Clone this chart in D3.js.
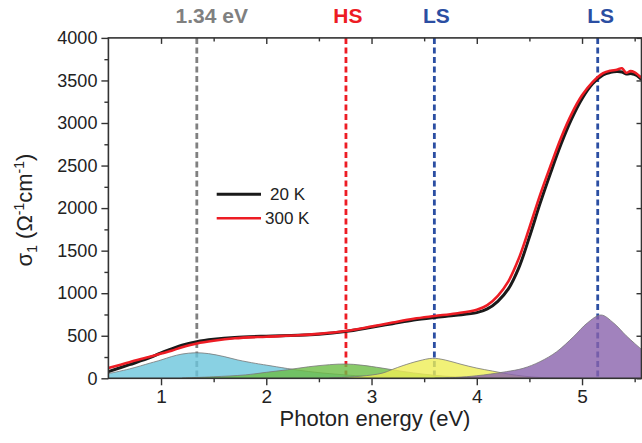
<!DOCTYPE html>
<html>
<head>
<meta charset="utf-8">
<script src="https://cdn.jsdelivr.net/npm/d3@7"></script>
<style>
  body { margin: 0; background: #fff; }
  #chart text { font-family: "Liberation Sans", Arial, sans-serif; }
</style>
</head>
<body>
<div id="chart"></div>
<script>
// Measured optical conductivity (eV, sigma_1)
const energy20K = [0.5, 0.7, 0.9, 1.0, 1.1, 1.2, 1.34, 1.5, 1.7, 2.0, 2.3, 2.5, 2.75, 3.0, 3.2, 3.4, 3.6, 3.8, 4.0, 4.1, 4.2, 4.3, 4.4, 4.5, 4.6, 4.7, 4.8, 4.9, 5.0, 5.1, 5.2, 5.27, 5.33, 5.38, 5.42, 5.47, 5.52, 5.565];
const sigma20K = [78, 160, 245, 300, 345, 390, 430, 458, 480, 495, 505, 518, 550, 600, 642, 685, 715, 740, 772, 815, 905, 1050, 1300, 1660, 2050, 2410, 2750, 3045, 3285, 3460, 3565, 3595, 3605, 3600, 3575, 3580, 3560, 3510];

const energy300K = [0.5, 0.7, 0.9, 1.0, 1.1, 1.2, 1.34, 1.5, 1.7, 2.0, 2.3, 2.5, 2.75, 3.0, 3.2, 3.4, 3.6, 3.8, 4.0, 4.1, 4.2, 4.3, 4.4, 4.5, 4.6, 4.7, 4.8, 4.9, 5.0, 5.1, 5.2, 5.27, 5.33, 5.38, 5.42, 5.46, 5.5, 5.565];
const sigma300K = [120, 190, 255, 290, 325, 365, 410, 442, 470, 489, 505, 522, 555, 608, 655, 700, 732, 762, 805, 860, 970, 1140, 1410, 1770, 2150, 2495, 2825, 3105, 3325, 3480, 3585, 3615, 3625, 3643, 3590, 3610, 3595, 3530];

// Fitted oscillator contributions
const peak1E = [0.5, 0.7, 0.9, 1.0, 1.1, 1.2, 1.33, 1.45, 1.6, 1.73, 1.9, 2.0, 2.2, 2.4, 2.6, 2.8, 3.0, 3.3, 3.6, 4.0];
const peak1S = [55, 110, 180, 215, 255, 285, 300, 290, 255, 215, 175, 155, 115, 80, 55, 35, 22, 10, 4, 0];

const peak2E = [1.2, 1.5, 1.8, 2.0, 2.2, 2.4, 2.6, 2.76, 2.9, 3.1, 3.3, 3.5, 3.7, 3.9, 4.2, 4.5];
const peak2S = [3, 18, 40, 70, 100, 135, 160, 168, 155, 120, 80, 48, 25, 12, 4, 0];

const peak3E = [2.6, 2.9, 3.1, 3.2, 3.3, 3.45, 3.58, 3.7, 3.85, 4.0, 4.15, 4.3, 4.45, 4.6, 4.8, 5.0];
const peak3S = [3, 25, 60, 105, 150, 205, 235, 215, 165, 120, 85, 50, 25, 10, 3, 0];

const peak4E = [3.6, 3.8, 4.0, 4.13, 4.28, 4.44, 4.6, 4.76, 4.92, 5.05, 5.18, 5.3, 5.42, 5.5, 5.565];
const peak4S = [3, 10, 30, 50, 78, 117, 195, 313, 490, 650, 744, 650, 500, 410, 340];

const peakColors = ["#6cc5dc", "#6cbd45", "#eeee55", "#8a63ad"];

// Transition markers
const markerE = [1.34, 2.757, 3.597, 5.149];
const markerLabels = ["1.34 eV", "HS", "LS", "LS"];
const markerColors = ["#808080", "#ed1c24", "#2b4ea2", "#2b4ea2"];
const markerLabelShift = [15, 2, 2, 3];

const xTicks = [1, 2, 3, 4, 5];
const xMinor = [1.5, 2.5, 3.5, 4.5, 5.5];
const yTicks = [0, 500, 1000, 1500, 2000, 2500, 3000, 3500, 4000];
const yMinor = [250, 750, 1250, 1750, 2250, 2750, 3250, 3750];

const width = 642, height = 443;

const svg = d3.select("#chart").append("svg")
  .attr("width", width)
  .attr("height", height);

const x = d3.scaleLinear().domain([0.5, 5.565]).range([108.4, 641.5]);
const y = d3.scaleLinear().domain([0, 4000]).range([378.3, 37.9]);

const axisColor = "#333";

// Dashed marker lines (drawn under the fills)
markerE.forEach((e, i) => {
  svg.append("line")
    .attr("x1", x(e)).attr("x2", x(e))
    .attr("y1", y(4000)).attr("y2", y(0))
    .attr("stroke", markerColors[i])
    .attr("stroke-width", 2.8)
    .attr("stroke-dasharray", "6,3.5");
  svg.append("text")
    .attr("x", x(e) + markerLabelShift[i])
    .attr("y", 22.7)
    .attr("text-anchor", "middle")
    .style("font-size", "21px")
    .style("font-weight", "bold")
    .style("fill", markerColors[i])
    .text(markerLabels[i]);
});

// Oscillator areas
const peaks = [
  [peak1E, peak1S], [peak2E, peak2S], [peak3E, peak3S], [peak4E, peak4S]
];
const area = d3.area()
  .x(d => x(d[0]))
  .y0(y(0))
  .y1(d => y(d[1]))
  .curve(d3.curveCatmullRom.alpha(0.5));
const edge = d3.line()
  .x(d => x(d[0]))
  .y(d => y(d[1]))
  .curve(d3.curveCatmullRom.alpha(0.5));

peaks.forEach((p, i) => {
  const pts = p[0].map((e, j) => [e, p[1][j]]);
  svg.append("path")
    .attr("d", area(pts))
    .attr("fill", peakColors[i])
    .attr("fill-opacity", 0.8);
  svg.append("path")
    .attr("d", edge(pts))
    .attr("fill", "none")
    .attr("stroke", "#777")
    .attr("stroke-width", 0.8);
});

// Spectra
const line = d3.line()
  .x(d => x(d[0]))
  .y(d => y(d[1]))
  .curve(d3.curveCatmullRom.alpha(0.5));

svg.append("path")
  .attr("d", line(energy20K.map((e, i) => [e, sigma20K[i]])))
  .attr("fill", "none")
  .attr("stroke", "#1a1a1a")
  .attr("stroke-width", 3);

svg.append("path")
  .attr("d", line(energy300K.map((e, i) => [e, sigma300K[i]])))
  .attr("fill", "none")
  .attr("stroke", "#ed1c24")
  .attr("stroke-width", 2.6);

// Axes
svg.append("g")
  .attr("transform", "translate(0," + y(0) + ")")
  .call(d3.axisBottom(x).tickValues(xTicks).tickSize(7).tickPadding(4).tickFormat(d3.format("d")))
  .call(g => g.select(".domain").remove())
  .call(g => g.selectAll("text").style("font-size", "19px").attr("fill", "#222"))
  .call(g => g.selectAll("line").attr("stroke", axisColor).attr("stroke-width", 1.4));
svg.append("g")
  .attr("transform", "translate(0," + y(0) + ")")
  .call(d3.axisBottom(x).tickValues(xMinor).tickSize(4).tickFormat(""))
  .call(g => g.select(".domain").remove())
  .call(g => g.selectAll("line").attr("stroke", axisColor).attr("stroke-width", 1.4));

svg.append("g")
  .attr("transform", "translate(" + x(0.5) + ",0)")
  .call(d3.axisLeft(y).tickValues(yTicks).tickSize(7).tickPadding(4).tickFormat(d3.format("d")))
  .call(g => g.select(".domain").remove())
  .call(g => g.selectAll("text").style("font-size", "18px").attr("fill", "#222"))
  .call(g => g.selectAll("line").attr("stroke", axisColor).attr("stroke-width", 1.4));
svg.append("g")
  .attr("transform", "translate(" + x(0.5) + ",0)")
  .call(d3.axisLeft(y).tickValues(yMinor).tickSize(4).tickFormat(""))
  .call(g => g.select(".domain").remove())
  .call(g => g.selectAll("line").attr("stroke", axisColor).attr("stroke-width", 1.4));

// Top and right axes, ticks inward
svg.append("g")
  .attr("transform", "translate(0," + y(4000) + ")")
  .call(d3.axisBottom(x).tickValues(xTicks).tickSize(6).tickFormat(""))
  .call(g => g.select(".domain").remove())
  .call(g => g.selectAll("line").attr("stroke", axisColor).attr("stroke-width", 1.4));
svg.append("g")
  .attr("transform", "translate(0," + y(4000) + ")")
  .call(d3.axisBottom(x).tickValues(xMinor).tickSize(3.5).tickFormat(""))
  .call(g => g.select(".domain").remove())
  .call(g => g.selectAll("line").attr("stroke", axisColor).attr("stroke-width", 1.4));
svg.append("g")
  .attr("transform", "translate(" + x(5.565) + ",0)")
  .call(d3.axisLeft(y).tickValues(yTicks).tickSize(5).tickFormat(""))
  .call(g => g.select(".domain").remove())
  .call(g => g.selectAll("line").attr("stroke", axisColor).attr("stroke-width", 1.4));

// Frame
svg.append("rect")
  .attr("x", x(0.5)).attr("y", y(4000))
  .attr("width", x(5.565) - x(0.5))
  .attr("height", y(0) - y(4000))
  .attr("fill", "none")
  .attr("stroke", axisColor)
  .attr("stroke-width", 1.6);

// Axis titles
svg.append("text")
  .attr("x", 375)
  .attr("y", 426)
  .attr("text-anchor", "middle")
  .style("font-size", "22px")
  .style("fill", "#222")
  .text("Photon energy (eV)");

const yTitle = svg.append("text")
  .attr("transform", "translate(32,210) rotate(-90)")
  .attr("text-anchor", "middle")
  .style("font-size", "22px")
  .style("fill", "#222");
yTitle.append("tspan").text("σ");
yTitle.append("tspan").attr("dy", 5).style("font-size", "14px").text("1");
yTitle.append("tspan").attr("dy", -5).text(" (Ω");
yTitle.append("tspan").attr("dy", -8).style("font-size", "14px").text("-1");
yTitle.append("tspan").attr("dy", 8).text("cm");
yTitle.append("tspan").attr("dy", -8).style("font-size", "14px").text("-1");
yTitle.append("tspan").attr("dy", 8).text(")");

// Legend
const legendNames = ["20 K", "300 K"];
const legendColors = ["#1a1a1a", "#ed1c24"];
const legendTextX = [270, 265];
legendNames.forEach((n, i) => {
  const ly = 194.3 + i * 24;
  svg.append("line")
    .attr("x1", 216.7).attr("x2", 261)
    .attr("y1", ly).attr("y2", ly)
    .attr("stroke", legendColors[i])
    .attr("stroke-width", i === 0 ? 3 : 2.6);
  svg.append("text")
    .attr("x", legendTextX[i])
    .attr("y", ly + 6)
    .style("font-size", "17px")
    .style("fill", "#222")
    .text(n);
});
</script>
</body>
</html>
